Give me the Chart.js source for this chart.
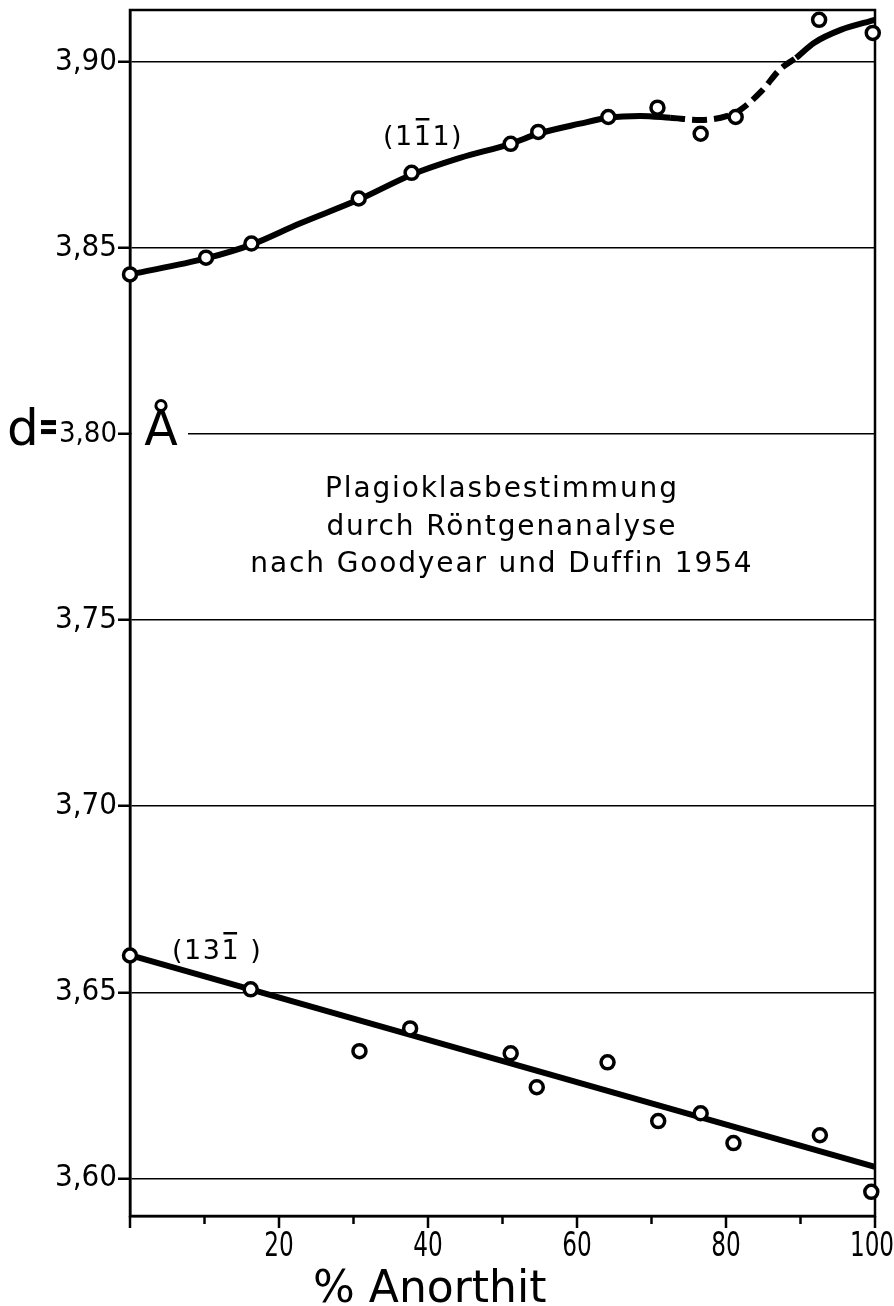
<!DOCTYPE html>
<html>
<head>
	<meta charset="utf-8">
	<title>Plagioklasbestimmung</title>
	<script src="https://cdn.jsdelivr.net/npm/chart.js@4.4.0/dist/chart.umd.min.js"></script>
	<style>
		body { margin: 0; background: #fff; }
		canvas { display: block; }
	</style>
</head>
<body>

	<canvas id="mychart" width="894" height="1306"></canvas>

	<script type="text/javascript">

		// % Anorthit of the measured samples
		const anX = [0, 10.2, 16.3, 30.7, 37.8, 51.1, 54.8, 64.2, 70.8, 76.6, 81.3, 92.5, 99.7];
		// d (111-bar) reflection, A
		const d111 = [3.8429, 3.8474, 3.8512, 3.8633, 3.8702, 3.8780, 3.8812, 3.8852, 3.8877, 3.8807, 3.8852, 3.9113, 3.9078];

		const anX2 = [0, 16.2, 30.8, 37.6, 51.1, 54.6, 64.1, 70.9, 76.6, 81.0, 92.6, 99.5];
		// d (13-1bar) reflection, A
		const d131 = [3.6599, 3.6508, 3.6342, 3.6403, 3.6336, 3.6245, 3.6312, 3.6154, 3.6175, 3.6095, 3.6116, 3.5964];

		// hand drawn curve through the (111) points
		const curveX = [0, 10.2, 16.3, 22.7, 30.7, 37.8, 44.3, 51.1, 54.8, 60.4, 64.2, 68.5, 72.5, 76.6, 80.2, 81.9, 84.7, 87.3, 89.4, 91.8, 95.4, 100];
		const curveY = [3.8429, 3.8472, 3.8509, 3.8565, 3.8630, 3.8697, 3.8742, 3.8780, 3.8807, 3.8834, 3.8850, 3.8855, 3.8850, 3.8844, 3.8855, 3.8871, 3.8920, 3.8981, 3.9011, 3.9051, 3.9086, 3.9113];
		const dashFrom = 72.5, dashTo = 89.4;

		// straight line for (13-1bar)
		const lineX = [0, 100];
		const lineY = [3.6600, 3.6031];

		const yTicks = [3.60, 3.65, 3.70, 3.75, 3.80, 3.85, 3.90];
		const xTicks = [0, 10, 20, 30, 40, 50, 60, 70, 80, 90, 100];
		const xLabels = [20, 40, 60, 80, 100];

		const titleLines = ['Plagioklasbestimmung', 'durch Röntgenanalyse', 'nach Goodyear und Duffin 1954'];

		const NARROW = '"DejaVu Sans Condensed", "DejaVu Sans", sans-serif';
		const SANS = '"DejaVu Sans", sans-serif';

		function pts(xs, ys) {
			return xs.map((x, i) => ({ x: x, y: ys[i] }));
		}

		function noPad(s) {
			s.paddingTop = 0;
			s.paddingBottom = 0;
			s.paddingLeft = 0;
			s.paddingRight = 0;
		}

		const extras = {
			id: 'extras',
			beforeDatasetsDraw(chart) {
				const ctx = chart.ctx;
				const a = chart.chartArea;
				const y = chart.scales.y;
				ctx.save();
				// gap in the 3,80 grid line for the unit
				ctx.fillStyle = '#fff';
				ctx.fillRect(a.left + 2, y.getPixelForValue(3.80) - 3, 56, 6);
				// frame
				ctx.strokeStyle = '#000';
				ctx.lineWidth = 2.5;
				ctx.strokeRect(a.left, a.top, a.right - a.left, a.bottom - a.top);
				ctx.restore();
			},
			afterDraw(chart) {
				const ctx = chart.ctx;
				const a = chart.chartArea;
				const x = chart.scales.x;
				const y = chart.scales.y;
				ctx.save();
				ctx.strokeStyle = '#000';
				ctx.fillStyle = '#000';
				ctx.lineWidth = 2.5;
				// x ticks, long at the labelled ones
				xTicks.forEach(v => {
					const px = x.getPixelForValue(v);
					const len = (v % 20 === 0) ? 12 : 8;
					ctx.beginPath();
					ctx.moveTo(px, a.bottom);
					ctx.lineTo(px, a.bottom + len);
					ctx.stroke();
				});
				// x labels in narrow lettering
				ctx.font = '33px ' + NARROW;
				ctx.textAlign = 'center';
				ctx.textBaseline = 'alphabetic';
				xLabels.forEach(v => {
					const px = x.getPixelForValue(v) - (v === 100 ? 3 : 0);
					ctx.save();
					ctx.translate(px, a.bottom + 40);
					ctx.scale(0.78, 1);
					ctx.fillText(String(v), 0, 0);
					ctx.restore();
				});

				// d = 3,80 A
				ctx.textAlign = 'left';
				const y380 = y.getPixelForValue(3.80);
				ctx.font = '50px ' + SANS;
				ctx.fillText('d', 7, y380 + 11);
				ctx.fillRect(41, y380 - 14, 15, 5);
				ctx.fillRect(41, y380 - 5, 15, 5);
				ctx.font = '49px ' + SANS;
				ctx.textAlign = 'center';
				ctx.fillText('Å', 161, y380 + 11);

				// title block, same letter pitch on every line, centred
				ctx.font = '28px ' + SANS;
				ctx.letterSpacing = '0px';
				const w0 = ctx.measureText(titleLines[0]).width;
				const ls = (352 - w0) / (titleLines[0].length - 1);
				ctx.letterSpacing = ls + 'px';
				ctx.textAlign = 'left';
				[497, 535, 572].forEach((base, i) => {
					const w = ctx.measureText(titleLines[i]).width - ls;
					ctx.fillText(titleLines[i], 501 - w / 2, base);
				});
				ctx.letterSpacing = '0px';

				// reflection labels with bar over one index
				function hkl(parts, barIdx, x0, base) {
					let cx = x0;
					parts.forEach((p, i) => {
						const w = ctx.measureText(p).width;
						ctx.fillText(p, cx, base);
						if (i === barIdx) {
							ctx.fillRect(cx + 2, base - 27, w - 5, 2.5);
						}
						cx += w;
					});
				}
				ctx.font = '27px ' + SANS;
				ctx.letterSpacing = '1.5px';
				hkl(['(1', '1', '1)'], 1, 383, 145);
				hkl(['(13', '1', ' )'], 1, 172, 959);

				// axis title
				ctx.letterSpacing = '0px';
				ctx.font = '44px ' + SANS;
				ctx.fillText('% Anorthit', 313, 1302);
				ctx.restore();
			}
		};

		chartIt();

		function chartIt() {
			const ctx = document.getElementById('mychart').getContext('2d');

			const myChart = new Chart(ctx, {
				type: 'scatter',
				data: {
					datasets: [
						{
							label: '(111) Messwerte',
							data: pts(anX, d111),
							pointRadius: 6.5,
							pointBorderWidth: 3.5,
							pointBackgroundColor: '#fff',
							pointBorderColor: '#000',
							clip: false,
							order: 0
						},
						{
							label: '(131) Messwerte',
							data: pts(anX2, d131),
							pointRadius: 6.5,
							pointBorderWidth: 3.5,
							pointBackgroundColor: '#fff',
							pointBorderColor: '#000',
							clip: false,
							order: 0
						},
						{
							label: '(111) Kurve',
							type: 'line',
							data: pts(curveX, curveY),
							borderColor: '#000',
							borderWidth: 6,
							pointRadius: 0,
							cubicInterpolationMode: 'monotone',
							fill: false,
							clip: false,
							segment: {
								borderDash: c => (c.p0.parsed.x >= dashFrom - 0.01 && c.p1.parsed.x <= dashTo + 0.01) ? [15, 7] : undefined
							},
							order: 1
						},
						{
							label: '(131) Gerade',
							type: 'line',
							data: pts(lineX, lineY),
							borderColor: '#000',
							borderWidth: 6,
							pointRadius: 0,
							fill: false,
							clip: false,
							order: 1
						}
					]
				},
				options: {
					responsive: false,
					animation: false,
					layout: { padding: { top: 8, right: 19, bottom: 0, left: 0 } },
					plugins: {
						legend: { display: false },
						tooltip: { enabled: false }
					},
					scales: {
						x: {
							type: 'linear',
							min: 0,
							max: 100,
							afterFit: s => { s.height = 90; noPad(s); },
							afterBuildTicks: s => { s.ticks = xTicks.map(v => ({ value: v })); },
							grid: { display: false, drawTicks: false },
							border: { display: true, color: '#000', width: 2.5 },
							ticks: { display: false }
						},
						y: {
							type: 'linear',
							min: 3.5899,
							max: 3.91395,
							afterFit: s => { s.width = 130; noPad(s); },
							afterBuildTicks: s => { s.ticks = yTicks.map(v => ({ value: v })); },
							grid: {
								color: '#000',
								lineWidth: 1.5,
								tickLength: 12,
								tickWidth: 2.5
							},
							border: { display: true, color: '#000', width: 2.5 },
							ticks: {
								padding: 1,
								color: '#000',
								font: c => ({ family: NARROW, size: (c.tick && c.tick.value === 3.80) ? 29 : 31 }),
								callback: v => v.toFixed(2).replace('.', ',')
							}
						}
					}
				},
				plugins: [extras]
			});
		}

	</script>

</body>
</html>
